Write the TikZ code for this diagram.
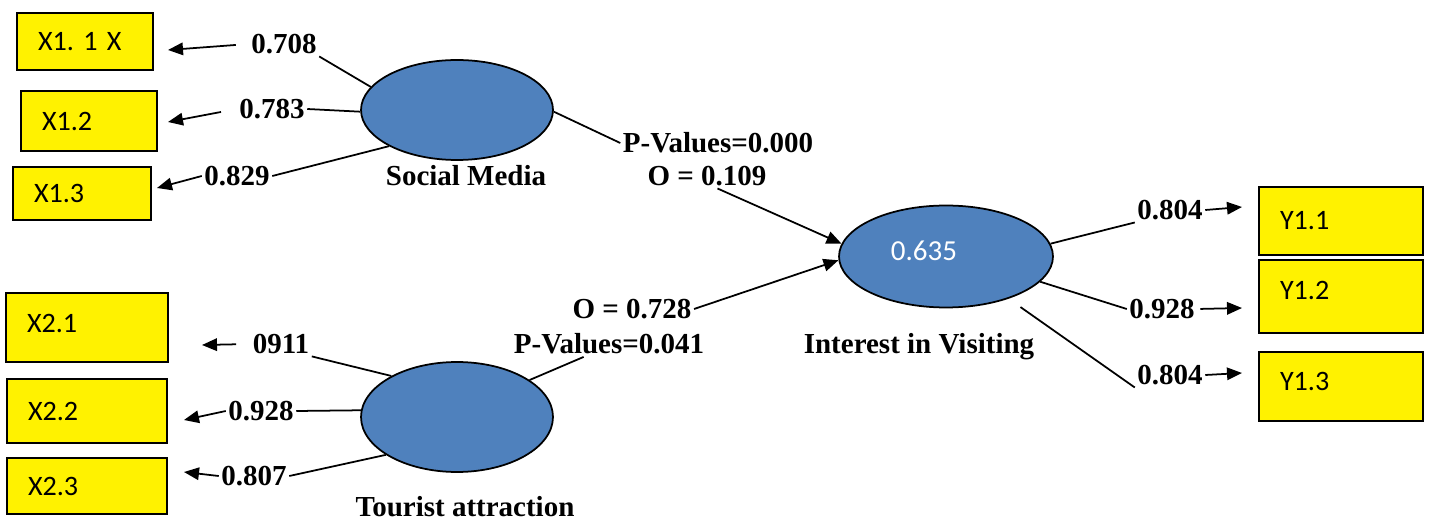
\documentclass[tikz,border=0pt]{standalone}
\usepackage{fontspec}
\setmainfont{Liberation Serif}
\newfontfamily\calibri{Carlito}
\usetikzlibrary{shapes.geometric,arrows.meta}
\definecolor{lvblue}{RGB}{79,129,189}
\frenchspacing
\begin{document}
\begin{tikzpicture}[x=0.02cm,y=-0.02cm,line width=1pt,>={Triangle[length=0.3cm,width=0.25cm]},
        ind/.style={rectangle,draw,fill=yellow,font=\calibri\fontsize{16}{19}\selectfont,align=left,inner xsep=0.42cm,inner ysep=0pt},
        lv/.style={ellipse,draw,fill=lvblue,minimum width=3.84cm},
        coef/.style={font=\bfseries\fontsize{16.5}{19}\selectfont,inner sep=1pt}]
        \useasboundingbox (0,0) rectangle (1429,523);

        % indicators
        \draw (85,41.5) node (x11) [ind,text width=1.88cm,minimum height=1.14cm] {X1. 1 X};
        \draw (89,121) node (x12) [ind,text width=1.88cm,minimum height=1.2cm] {X1.2};
        \draw (82,193.5) node (x13) [ind,text width=1.92cm,minimum height=1.06cm] {X1.3};
        \draw (87,327.5) node (x21) [ind,text width=2.4cm,minimum height=1.38cm,text depth=0.18cm] {X2.1};
        \draw (87,411) node (x22) [ind,text width=2.36cm,minimum height=1.28cm] {X2.2};
        \draw (87,486) node (x23) [ind,text width=2.36cm,minimum height=1.12cm] {X2.3};
        \draw (1341,221) node (y11) [ind,text width=2.44cm,minimum height=1.36cm] {Y1.1};
        \draw (1341,296.5) node (y12) [ind,text width=2.44cm,minimum height=1.46cm,text depth=0.26cm] {Y1.2};
        \draw (1341,386.5) node (y13) [ind,text width=2.44cm,minimum height=1.38cm,text depth=0.22cm] {Y1.3};

        % latent variables
        \draw (457,110) node (sm) [lv,minimum height=2cm] {};
        \draw (457,417) node (ta) [lv,minimum height=2.2cm] {};
        \draw (946,256.5) node (iv) [lv,minimum width=4.28cm,minimum height=2.04cm,
            label={[text=white,font=\calibri\fontsize{16.5}{19}\selectfont,xshift=-0.44cm,yshift=0.11cm]center:0.635}] {};
        \draw (466,176) node (smname) [coef] {Social Media};
        \draw (465,507) node (taname) [coef,inner sep=0pt] {Tourist attraction};
        \draw (919,347) node (ivname) [coef] {Interest in Visiting};

        % loadings
        \draw (284,44) node (l708) [coef] {0.708};
        \draw (272,109) node (l783) [coef] {0.783};
        \draw (237,176) node (l829) [coef] {0.829};
        \draw (281,344) node (l911) [coef] {0911};
        \draw (261,411) node (l928a) [coef] {0.928};
        \draw (254,476) node (l807) [coef] {0.807};
        \draw (1170,210) node (l804a) [coef] {0.804};
        \draw (1162,309) node (l928b) [coef] {0.928};
        \draw (1170,375) node (l804b) [coef] {0.804};

        % path coefficients
        \draw (718,143) node (p000) [coef] {P-Values=0.000};
        \draw (707,176) node (o109) [coef] {O = 0.109};
        \draw (632,309) node (o728) [coef] {O = 0.728};
        \draw (609,344) node (p041) [coef] {P-Values=0.041};

        \coordinate (t11) at (168,50);
        \coordinate (t12) at (168,122);
        \coordinate (t13) at (157,188);
        \coordinate (t21) at (202,345);
        \coordinate (t22) at (184,420);
        \coordinate (t23) at (184,472);
        \coordinate (t31) at (1242,207);
        \coordinate (t32) at (1242,308);
        \coordinate (t33) at (1242,373);

        \draw (sm.165) to (l708.south east);
        \draw (sm.181) to (l783.east);
        \draw (sm.208) to (l829.east);
        \draw [->,shorten <=0.26cm] (l708.west) to (t11);
        \draw [->,shorten <=0.32cm] (l783.west) to (t12);
        \draw [->] (l829.west) to (t13);

        \draw (ta.148) to (l911.south east);
        \draw (ta.176) to (l928a.east);
        \draw (ta.208.6) to (l807.east);
        \draw [->,shorten <=0.28cm] (l911.west) to (t21);
        \draw [->] (l928a.west) to (t22);
        \draw [->] (l807.west) to (t23);

        \draw (sm.359) to (p000.west);
        \draw [->] (o109.-50) to (iv.173);
        \draw (ta.27.5) to (p041.-153);
        \draw [->] (o728.east) to (iv.182);

        \draw (iv.7) to (l804a.south west);
        \draw (iv.-15) to (l928b.west);
        \draw [shorten <=0.29cm] (iv.-34.5) to (l804b.south west);
        \draw [->] (l804a.east) to (t31);
        \draw [->,shorten <=0.06cm] (l928b.east) to (t32);
        \draw [->] (l804b.east) to (t33);
    \end{tikzpicture}
\end{document}
